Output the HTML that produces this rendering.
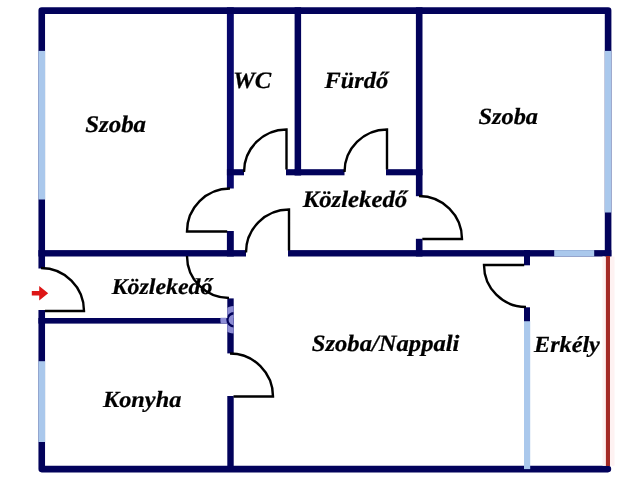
<!DOCTYPE html>
<html><head><meta charset="utf-8">
<style>
html,body{margin:0;padding:0;background:#fff;width:640px;height:480px;overflow:hidden}
svg{display:block;will-change:transform}
text{font-family:"Liberation Serif",serif;font-weight:bold;font-style:italic;font-size:25px;fill:#000;stroke:#000;stroke-width:0.25px;text-rendering:geometricPrecision}
</style></head>
<body>
<svg width="640" height="480" viewBox="0 0 640 480">
<rect x="0" y="0" width="640" height="480" fill="#fff"/>
<g fill="#02025b">
<!-- interior verticals -->
<rect x="226.9" y="7.3" width="6.9" height="181.2" fill="#07076c"/>
<rect x="226.9" y="231" width="6.9" height="25.5"/>
<rect x="294.6" y="7.3" width="6.5" height="168"/>
<rect x="415.9" y="7.3" width="6.6" height="188.9"/>
<rect x="415.9" y="238.8" width="6.6" height="17.7"/>
<rect x="227.3" y="298.4" width="6.4" height="55"/>
<rect x="227.3" y="396" width="6.4" height="76"/>
<rect x="524" y="250.1" width="6" height="15.2"/>
<rect x="524" y="307.3" width="6" height="14.5"/>
<!-- horizontals -->
<rect x="226.9" y="169.2" width="17.1" height="6.1"/>
<rect x="286" y="169.2" width="15.1" height="6.1"/>
<rect x="294.6" y="169.2" width="49.9" height="6.1"/>
<rect x="386" y="169.2" width="36.5" height="6.1"/>
<rect x="38.4" y="250.1" width="207.6" height="6.4"/>
<rect x="288" y="250.1" width="323.35" height="6.4"/>
<rect x="38.4" y="318" width="195.3" height="5.6"/>
</g>
<path d="M608.1 256.5 V10.6 H41.75 V469.1 H607.9" fill="none" stroke="#02025b" stroke-width="6.6" stroke-linejoin="round" stroke-linecap="round"/>
<rect x="36" y="268.5" width="11" height="41.5" fill="#fff"/>
<!-- windows -->
<g fill="#aac8ec">
<rect x="38.4" y="50.9" width="6.7" height="148.6"/>
<rect x="38.4" y="361.2" width="6.7" height="80.8"/>
<rect x="604.8" y="50.9" width="6.55" height="161.6"/>
<rect x="554.2" y="250.1" width="40" height="6.4"/>
<rect x="524" y="321.3" width="6.2" height="147.8"/>
</g>
<!-- balcony rail -->
<rect x="602.5" y="256.5" width="12" height="209.3" fill="#fef2f2"/>
<rect x="605.9" y="256" width="4.1" height="210" fill="#a42a25"/>
<!-- watermark -->
<defs><clipPath id="wc"><rect x="220" y="317.8" width="8" height="5.8"/><rect x="227.3" y="298" width="6.4" height="55"/></clipPath></defs>
<g clip-path="url(#wc)" fill="none" stroke="#8c8cd4">
<circle cx="234" cy="319.8" r="10.7" stroke-width="6"/>
<circle cx="234" cy="319.8" r="5.4" fill="#8c8cd4" stroke="none"/>
</g>
<!-- doors -->
<g fill="none" stroke="#000" stroke-width="2.4">
<path d="M286.5 169.5 V129.5 A42.5 42.5 0 0 0 244 172"/>
<path d="M387 169.5 V129.5 A42.5 42.5 0 0 0 344.5 172"/>
<path d="M227.2 231.5 H187 A43 43 0 0 1 230 188.5"/>
<path d="M289 250.4 V209.5 A43 43 0 0 0 246 252.5"/>
<path d="M422.3 239 H462 A43 43 0 0 0 419 196"/>
<path d="M44.9 311 H84 A43 43 0 0 0 41 268"/>
<path d="M187 256 A42 42 0 0 0 229 298"/>
<path d="M233.5 396.5 H273 A43 43 0 0 0 230 353.5"/>
<path d="M524.2 265 H484 A42 42 0 0 0 526 307"/>
</g>
<!-- entry arrow -->
<path d="M31.8 291 H39.2 V285.9 L48.2 293.2 L39.2 300.4 V295.5 H31.8 Z" fill="#dd1616"/>
<!-- labels -->
<text transform="translate(85.2 131.9) scale(1 0.95)" style="font-size:24.9px">Szoba</text>
<text transform="translate(232.9 88.0) scale(1 0.95)" style="font-size:24.7px">WC</text>
<text transform="translate(324.4 88.3) scale(1 0.95)" style="font-size:24.4px">Fürdő</text>
<text transform="translate(478.4 123.5) scale(1 0.95)" style="font-size:24.4px">Szoba</text>
<text transform="translate(302.7 207.2) scale(1 0.95)" style="font-size:24.75px">Közlekedő</text>
<text transform="translate(111.65 293.8) scale(1 0.95)" style="font-size:23.9px">Közlekedő</text>
<text transform="translate(311.8 351.0) scale(1 0.95)" style="font-size:24.6px">Szoba/Nappali</text>
<text transform="translate(103 406.8) scale(1 0.95)" style="font-size:24.3px">Konyha</text>
<text transform="translate(534 352.2) scale(1 0.95)" style="font-size:24.2px">Erkély</text>
</svg>
</body></html>
